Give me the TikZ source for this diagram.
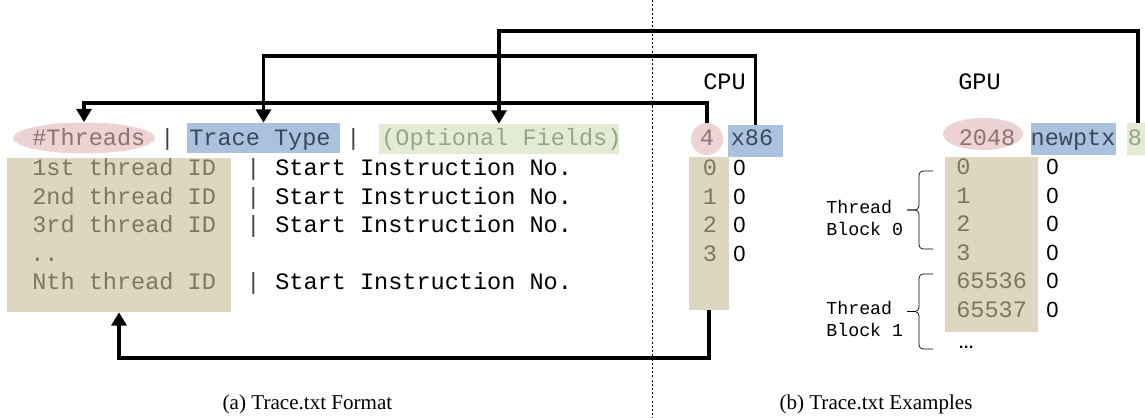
\documentclass[tikz,border=0pt]{standalone}
\usepackage{fontspec}
\setmainfont{Liberation Serif}
\setsansfont{Liberation Sans}
\setmonofont{Liberation Mono}
\usepackage{tikz}
\usetikzlibrary{arrows.meta}
\usetikzlibrary{shapes.geometric}
\definecolor{thrpink}{HTML}{EDD3D3}
\definecolor{typeblue}{HTML}{ABC2DE}
\definecolor{optgreen}{HTML}{E3EBD5}
\definecolor{idtan}{HTML}{DDD7C2}
\definecolor{thrtext}{HTML}{8A7575}
\definecolor{typetext}{HTML}{3B475C}
\definecolor{opttext}{HTML}{97A38A}
\definecolor{idtext}{HTML}{7D7762}
\definecolor{bartext}{HTML}{444444}

\begin{document}
\begin{tikzpicture}[x=0.02cm, y=-0.02cm,
  mono/.style={font=\ttfamily\fontsize{13.4}{16}\selectfont, inner sep=0pt, anchor=base west},
  blocklabel/.style={font=\ttfamily\fontsize{10.4}{13}\selectfont, inner sep=0pt, anchor=west, align=left},
  startno/.style={font=\sffamily\fontsize{12.5}{14}\selectfont, inner sep=0pt, anchor=base west},
  fieldbox/.style={inner sep=0pt, minimum height=0.6cm},
  link/.style={line width=1.8pt, -{Triangle[length=7.5pt,width=8.5pt]}}]
  \useasboundingbox (0,0) rectangle (1145,418);

  % (a) format
  \node[ellipse, fill=thrpink, inner sep=0pt, minimum width=2.84cm, minimum height=0.62cm] (thr) at (84,138) {};
  \node[fieldbox, fill=typeblue, minimum width=3.06cm] (ttype) at (263.5,138) {};
  \node[fieldbox, fill=optgreen, minimum width=4.8cm] (opt) at (499,139) {};
  \node[fill=idtan, inner sep=0pt, minimum width=4.48cm, minimum height=3.08cm] (lcol) at (119,235) {};

  \node[mono, text=thrtext] (thrtxt) at (32,146) {\#Threads};
  \node[mono, text=bartext] (bar1) at (160,146) {|};
  \node[mono, text=typetext] (ttypetxt) at (189,146) {Trace Type};
  \node[mono, text=bartext] (bar2) at (346,146) {|};
  \node[mono, text=opttext] (opttxt) at (381,146) {(Optional Fields)};

  \node[mono, text=idtext] (id1) at (32,176) {1st thread ID};
  \node[mono, text=bartext] (bar3) at (246,176) {|};
  \node[mono] (st1) at (275,176) {Start Instruction No.};
  \node[mono, text=idtext] (id2) at (32,205) {2nd thread ID};
  \node[mono, text=bartext] (bar4) at (246,205) {|};
  \node[mono] (st2) at (275,205) {Start Instruction No.};
  \node[mono, text=idtext] (id3) at (32,233) {3rd thread ID};
  \node[mono, text=bartext] (bar5) at (246,233) {|};
  \node[mono] (st3) at (275,233) {Start Instruction No.};
  \node[mono, text=idtext] (iddots) at (30,262) {..};
  \node[mono, text=idtext] (idn) at (32,290) {Nth thread ID};
  \node[mono, text=bartext] (bar6) at (246,290) {|};
  \node[mono] (stn) at (275,290) {Start Instruction No.};

  \draw[dash pattern=on 1.2pt off 1.2pt, line width=0.5pt] (652,0) -- (652,418);

  % (b) cpu example
  \node[mono] (cpu) at (703,90) {CPU};
  \node[circle, fill=thrpink, inner sep=0pt, minimum size=0.64cm] (cpun) at (707,139) {};
  \node[fill=typeblue, inner sep=0pt, minimum width=1.1cm, minimum height=0.64cm] (cpux) at (755.5,141) {};
  \node[fill=idtan, inner sep=0pt, minimum width=0.8cm, minimum height=3.06cm] (cpucol) at (709,233.5) {};
  \node[mono, anchor=base, text=thrtext] (cpuntxt) at (707,146) {4};
  \node[mono, anchor=base, text=typetext] (cpuxtxt) at (752,146) {x86};
  \node[mono, anchor=base, text=idtext] (c0) at (710,176) {0};
  \node[mono, anchor=base, text=idtext] (c1) at (710,205) {1};
  \node[mono, anchor=base, text=idtext] (c2) at (710,233) {2};
  \node[mono, anchor=base, text=idtext] (c3) at (710,262) {3};
  \node[startno] (cs0) at (733,176) {0};
  \node[startno] (cs1) at (733,205) {0};
  \node[startno] (cs2) at (733,233) {0};
  \node[startno] (cs3) at (733,262) {0};

  % (b) gpu example
  \node[mono] (gpu) at (958,90) {GPU};
  \node[ellipse, fill=thrpink, inner sep=0pt, minimum width=1.6cm, minimum height=0.64cm] (gpun) at (983,134) {};
  \node[fill=typeblue, inner sep=0pt, minimum width=1.7cm, minimum height=0.64cm] (gpux) at (1073.5,139) {};
  \node[fill=optgreen, inner sep=0pt, minimum width=0.44cm, minimum height=0.64cm] (gpu8) at (1138,139) {};
  \node[fill=idtan, inner sep=0pt, minimum width=1.86cm, minimum height=3.5cm] (gpucol) at (991.5,244.5) {};
  \node[mono, anchor=base, text=thrtext] (gpuntxt) at (987,146) {2048};
  \node[mono, anchor=base, text=typetext] (gpuxtxt) at (1073,146) {newptx};
  \node[mono, anchor=base, text=opttext] (gpu8txt) at (1135,146) {8};
  \node[mono, text=idtext] (g0) at (956,175) {0};
  \node[mono, text=idtext] (g1) at (956,203.5) {1};
  \node[mono, text=idtext] (g2) at (956,232) {2};
  \node[mono, text=idtext] (g3) at (956,260.5) {3};
  \node[mono, text=idtext] (g4) at (956,289) {65536};
  \node[mono, text=idtext] (g5) at (956,317.5) {65537};
  \node[startno] (gs0) at (1046,175) {0};
  \node[startno] (gs1) at (1046,203.5) {0};
  \node[startno] (gs2) at (1046,232) {0};
  \node[startno] (gs3) at (1046,260.5) {0};
  \node[startno] (gs4) at (1046,289) {0};
  \node[startno] (gs5) at (1046,317.5) {0};
  \node[startno, font=\sffamily\fontsize{9}{11}\selectfont] (gdots) at (958,348) {\textbf{…}};

  \node[blocklabel] (tb0) at (826,218) {Thread\\Block 0};
  \node[blocklabel] (tb1) at (826,319) {Thread\\Block 1};
  \draw[rounded corners=2.3pt] (933,171) -- (919,171) -- (919,210) -- (907,210);
  \draw[rounded corners=2.3pt] (907,210) -- (919,210) -- (919,249) -- (933,249);
  \draw[rounded corners=2.3pt] (933,274) -- (919,274) -- (919,311.5) -- (907,311.5);
  \draw[rounded corners=2.3pt] (907,311.5) -- (919,311.5) -- (919,349) -- (933,349);

  % links
  \coordinate (lvl1) at (0,103);
  \coordinate (lvl2) at (0,56);
  \coordinate (lvl3) at (0,31);
  \coordinate (lvl4) at (0,358);
  \draw[link] (cpun.north) -- (cpun.north |- lvl1) -| (thr.north);
  \draw[link] (cpux.north) -- (cpux.north |- lvl2) -| (ttype.north);
  \draw[link] (gpu8.north) -- (gpu8.north |- lvl3) -| (opt.north);
  \draw[link] (cpucol.south) -- (cpucol.south |- lvl4) -| (lcol.south);

  \node[font=\fontsize{12}{14}\selectfont, anchor=base] (capa) at (307.5,409) {(a) Trace.txt Format};
  \node[font=\fontsize{12}{14}\selectfont, anchor=base] (capb) at (876,409) {(b) Trace.txt Examples};
\end{tikzpicture}
\end{document}
